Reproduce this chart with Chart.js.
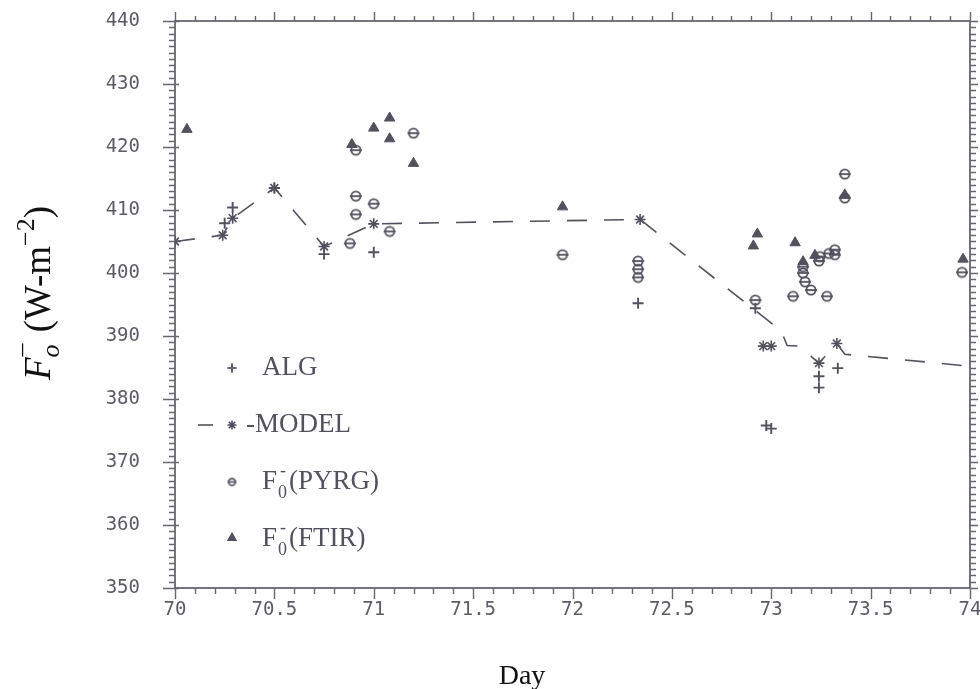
<!DOCTYPE html>
<html>
<head>
<meta charset="utf-8">
<script src="https://cdn.jsdelivr.net/npm/chart.js@4.4.1/dist/chart.umd.min.js"></script>
<style>
  html, body { margin: 0; padding: 0; background: #fff; }
  #wrap { width: 980px; height: 689px; position: relative; }
</style>
</head>
<body>
<div id="wrap"><canvas id="flux"></canvas></div>
<script>
// axis ticks
const xTickLabels = ["70", "70.5", "71", "71.5", "72", "72.5", "73", "73.5", "74"];
const yTickLabels = ["350", "360", "370", "380", "390", "400", "410", "420", "430", "440"];

// ALG retrieval
const algDays = [70.25, 70.29, 70.50, 70.75, 71.00, 72.33, 72.92, 72.975, 73.00, 73.24, 73.24, 73.335];
const algFlux = [407.9, 410.4, 413.5, 403.0, 403.3, 395.2, 394.4, 375.8, 375.3, 383.6, 381.8, 384.9];

// model curve (dashed) and the model samples marked with asterisks
const modelDays = [70.00, 70.24, 70.29, 70.50, 70.75, 71.00, 72.34, 73.05, 73.08, 73.14, 73.24, 73.33, 73.37, 74.00];
const modelFlux = [405.0, 406.0, 408.7, 413.5, 404.2, 407.8, 408.5, 390.8, 388.5, 388.4, 385.7, 388.8, 387.1, 385.2];
const modelStarDays = [70.00, 70.24, 70.29, 70.50, 70.75, 71.00, 72.34, 72.96, 73.00, 73.24, 73.33];
const modelStarFlux = [405.0, 406.0, 408.7, 413.5, 404.2, 407.8, 408.5, 388.4, 388.4, 385.7, 388.8];

// pyrgeometer
const pyrgDays = [70.88, 70.91, 70.91, 70.91, 71.00, 71.08, 71.20, 71.95, 72.33, 72.33, 72.33, 72.92,
  73.11, 73.16, 73.16, 73.17, 73.20, 73.24, 73.245, 73.29, 73.32, 73.32, 73.28, 73.37, 73.37, 73.96];
const pyrgFlux = [404.7, 412.2, 409.3, 419.5, 411.0, 406.6, 422.2, 402.9, 401.9, 400.6, 399.3, 395.7,
  396.3, 401.0, 400.0, 398.6, 397.3, 401.9, 402.6, 403.1, 403.7, 402.9, 396.3, 415.7, 411.9, 400.1];

// FTIR
const ftirDays = [70.06, 70.89, 71.00, 71.08, 71.08, 71.20, 71.95, 72.91, 72.93, 73.12, 73.16, 73.22, 73.37, 73.965];
const ftirFlux = [422.8, 420.4, 423.0, 424.6, 421.3, 417.4, 410.5, 404.3, 406.2, 404.8, 401.8, 402.8, 412.4, 402.2];

const ink = "#52525e";
const axisInk = "#666670";
const toXY = (xs, ys) => xs.map((x, i) => ({ x, y: ys[i] }));

// circle with a bar through it, used for the pyrgeometer points
function barCircle(r, lw) {
  const c = document.createElement("canvas");
  const s = Math.ceil(r * 2 + 4);
  c.width = s; c.height = s;
  const g = c.getContext("2d");
  g.strokeStyle = ink;
  g.lineWidth = lw;
  g.beginPath();
  g.arc(s / 2, s / 2, r, 0, Math.PI * 2);
  g.stroke();
  g.beginPath();
  g.moveTo(1, s / 2);
  g.lineTo(s - 1, s / 2);
  g.stroke();
  return c;
}
const pyrgMark = barCircle(4.6, 1.8);
const pyrgLegendMark = barCircle(3.4, 1.6);

const frame = {
  id: "frame",
  beforeDatasetsDraw(chart) {
    const { ctx, chartArea: a, scales: { x, y } } = chart;
    ctx.save();
    ctx.strokeStyle = axisInk;
    ctx.lineWidth = 1.8;
    ctx.strokeRect(a.left, a.top, a.right - a.left, a.bottom - a.top);
    ctx.lineWidth = 1.4;
    ctx.beginPath();
    // minor ticks every 0.1 day and every 1 W/m2
    for (let v = 700; v <= 740; v++) {
      const px = Math.round(x.getPixelForValue(v / 10)) + 0.5;
      const major = v % 5 === 0;
      ctx.moveTo(px, a.bottom); ctx.lineTo(px, a.bottom + (major ? 11 : 6));
      ctx.moveTo(px, a.top); ctx.lineTo(px, a.top - (major ? 9 : 5));
    }
    for (let v = 350; v <= 440; v++) {
      const py = Math.round(y.getPixelForValue(v)) + 0.5;
      const major = v % 10 === 0;
      ctx.moveTo(a.left - (major ? 12 : 6), py); ctx.lineTo(a.left + (major ? 4 : 0), py);
      ctx.moveTo(a.right, py); ctx.lineTo(a.right + (major ? 8 : 6), py);
    }
    ctx.stroke();
    ctx.restore();
  },
  afterDraw(chart) {
    const { ctx } = chart;
    const serif = "'Liberation Serif', 'Times New Roman', serif";
    ctx.save();

    // legend
    ctx.fillStyle = ink;
    ctx.strokeStyle = ink;
    ctx.textBaseline = "middle";
    const mx = 232, tx = 262;
    const rows = [368, 425, 482, 539];
    const lgFont = `27px ${serif}`, lgSmall = `18px ${serif}`;
    ctx.font = lgFont;
    Chart.helpers.drawPoint(ctx, { pointStyle: "cross", radius: 4.5, borderWidth: 1.6 }, mx, rows[0]);
    ctx.lineWidth = 1.6;
    ctx.stroke();
    ctx.fillText("ALG", tx, rows[0]);

    ctx.beginPath();
    ctx.moveTo(198, rows[1]); ctx.lineTo(213, rows[1]);
    ctx.stroke();
    Chart.helpers.drawPoint(ctx, { pointStyle: "star", radius: 4.5, borderWidth: 1.5 }, mx, rows[1]);
    ctx.fillText("-MODEL", 246, rows[1]);

    ctx.drawImage(pyrgLegendMark, mx - pyrgLegendMark.width / 2, rows[2] - pyrgLegendMark.height / 2);
    ctx.fillStyle = ink;
    Chart.helpers.drawPoint(ctx, { pointStyle: "triangle", radius: 4.5, borderWidth: 1 }, mx, rows[3] - 1);
    ctx.fill();

    [["(PYRG)", rows[2]], ["(FTIR)", rows[3]]].forEach(([tail, ry]) => {
      ctx.font = lgFont;
      ctx.fillText("F", tx, ry);
      const fw = ctx.measureText("F").width;
      ctx.font = lgSmall;
      ctx.fillText("0", tx + fw + 1, ry + 11);
      ctx.fillText("-", tx + fw + 3, ry - 11);
      ctx.font = lgFont;
      ctx.fillText(tail, tx + fw + 12, ry);
    });

    // x title
    ctx.fillStyle = "#111";
    ctx.textAlign = "center";
    ctx.textBaseline = "alphabetic";
    ctx.font = `28px ${serif}`;
    ctx.fillText("Day", 522, 684);

    // y title, rotated
    ctx.translate(50, 293);
    ctx.rotate(-Math.PI / 2);
    ctx.textAlign = "left";
    const big = `37px ${serif}`, small = `26px ${serif}`;
    const parts = [
      { t: "F", f: `italic ${big}`, dy: 0 },
      { t: "o", f: `italic ${small}`, dy: 9, sup: "\u2013" },
      { t: " (W-m", f: big, dy: 0 },
      { t: "\u22122", f: small, dy: -16 },
      { t: ")", f: big, dy: 0 }
    ];
    let total = 0;
    parts.forEach(p => { ctx.font = p.f; p.w = ctx.measureText(p.t).width + (p.sup ? 3 : 0); total += p.w; });
    let cx = -total / 2;
    parts.forEach(p => {
      ctx.font = p.f;
      ctx.fillText(p.t, cx, p.dy);
      if (p.sup) ctx.fillText(p.sup, cx + 1, -21);
      cx += p.w;
    });
    ctx.restore();
  }
};

new Chart(document.getElementById("flux"), {
  type: "scatter",
  data: {
    datasets: [
      {
        label: "MODEL",
        data: toXY(modelDays, modelFlux),
        showLine: true,
        borderColor: ink,
        borderWidth: 1.6,
        borderDash: [20, 17],
        pointRadius: 0,
        fill: false
      },
      {
        label: "MODEL points",
        data: toXY(modelStarDays, modelStarFlux),
        pointStyle: "star",
        pointRadius: 5.5,
        borderColor: ink,
        borderWidth: 1.6
      },
      {
        label: "ALG",
        data: toXY(algDays, algFlux),
        pointStyle: "cross",
        pointRadius: 5.5,
        borderColor: ink,
        borderWidth: 1.9
      },
      {
        label: "F0-(PYRG)",
        data: toXY(pyrgDays, pyrgFlux),
        pointStyle: pyrgMark,
        pointRadius: 5
      },
      {
        label: "F0-(FTIR)",
        data: toXY(ftirDays, ftirFlux),
        pointStyle: "triangle",
        pointRadius: 6,
        backgroundColor: ink,
        borderColor: ink,
        borderWidth: 1
      }
    ]
  },
  options: {
    responsive: true,
    maintainAspectRatio: false,
    animation: false,
    layout: { padding: { top: 21, right: 10, left: 0, bottom: 0 } },
    plugins: { legend: { display: false }, tooltip: { enabled: false } },
    scales: {
      x: {
        type: "linear",
        min: 70,
        max: 74,
        grid: { display: false },
        border: { display: false },
        afterBuildTicks: (s) => { s.ticks = xTickLabels.map(v => ({ value: Number(v) })); },
        afterFit: (s) => { s.height = 101; s.paddingLeft = 0; s.paddingRight = 0; },
        ticks: {
          autoSkip: false,
          maxRotation: 0,
          padding: 3,
          color: "#5c5c66",
          font: { family: "'DejaVu Sans Mono', monospace", size: 19 },
          callback: (v, i) => xTickLabels[i]
        }
      },
      y: {
        min: 350,
        max: 440,
        grid: { display: false },
        border: { display: false },
        afterBuildTicks: (s) => { s.ticks = yTickLabels.map(v => ({ value: Number(v) })); },
        afterFit: (s) => { s.width = 175; s.paddingTop = 0; s.paddingBottom = 0; },
        ticks: {
          padding: 27,
          color: "#5c5c66",
          font: { family: "'DejaVu Sans Mono', monospace", size: 19 },
          callback: (v, i) => yTickLabels[i]
        }
      }
    }
  },
  plugins: [frame]
});
</script>
</body>
</html>
